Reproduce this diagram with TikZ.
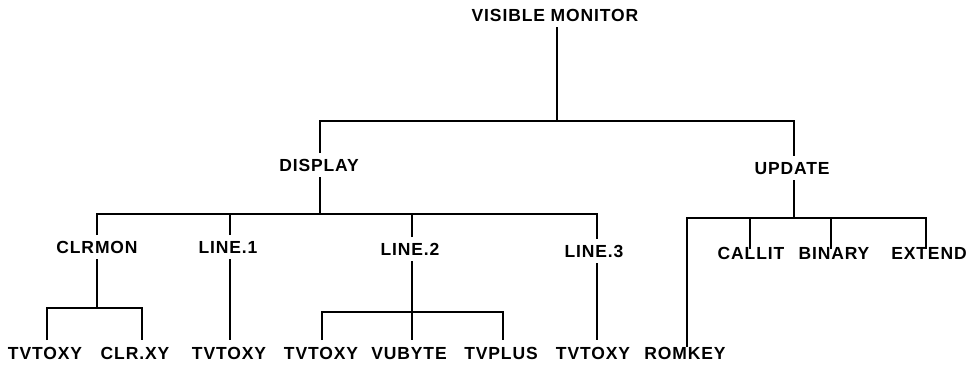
\documentclass[tikz,border=0pt]{standalone}
\usepackage{fontspec}
\setmainfont{Liberation Sans}[LetterSpace=5]
\begin{document}
\begin{tikzpicture}[x=1pt,y=-1pt,
  lbl/.style={font=\fontsize{17.5}{20}\selectfont\bfseries, inner xsep=1pt, inner ysep=5.5pt, text height=12.6pt, text depth=0pt},
  wire/.style={line width=1.7pt, line cap=butt, line join=miter}]
\useasboundingbox (0,0) rectangle (976,365);
% nodes
\node[lbl] (vm) at (555,15) {VISIBLE MONITOR};
\node[lbl] (disp) at (319,165) {DISPLAY};
\node[lbl] (upd) at (792,168) {UPDATE};
\node[lbl] (clrmon) at (97,247) {CLRMON};
\node[lbl] (line1) at (228,247) {LINE.1};
\node[lbl] (line2) at (410,249) {LINE.2};
\node[lbl] (line3) at (594,251) {LINE.3};
\node[lbl] (callit) at (751,253) {CALLIT};
\node[lbl] (binary) at (834,253) {BINARY};
\node[lbl] (extend) at (929,253) {EXTEND};
\node[lbl] (t1) at (45,353) {TVTOXY};
\node[lbl] (clrxy) at (135,353) {CLR.XY};
\node[lbl] (t2) at (229,353) {TVTOXY};
\node[lbl] (t3) at (321,353) {TVTOXY};
\node[lbl] (vubyte) at (409,353) {VUBYTE};
\node[lbl] (tvplus) at (501,353) {TVPLUS};
\node[lbl] (t4) at (593,353) {TVTOXY};
\node[lbl] (romkey) at (685,353) {ROMKEY};
% junction levels
\coordinate (h1) at (0,121);
\coordinate (h2) at (0,214);
\coordinate (h3) at (0,218);
\coordinate (h4) at (0,308);
\coordinate (h5) at (0,312);
% level 1
\draw[wire] ([xshift=2pt]vm.south) -- ([xshift=2pt]vm.south |- h1);
\draw[wire] ([xshift=1pt]disp.north) -- ([xshift=1pt]disp.north |- h1) -- ([xshift=2pt]upd.north |- h1) -- ([xshift=2pt]upd.north);
% DISPLAY children
\draw[wire] ([xshift=1pt]disp.south) -- ([xshift=1pt]disp.south |- h2);
\draw[wire] (clrmon.north) -- (clrmon.north |- h2) -- ([xshift=3pt]line3.north |- h2) -- ([xshift=3pt]line3.north);
\draw[wire] ([xshift=2pt]line1.north) -- ([xshift=2pt]line1.north |- h2);
\draw[wire] ([xshift=2pt]line2.north) -- ([xshift=2pt]line2.north |- h2);
% UPDATE children
\draw[wire] ([xshift=2pt]upd.south) -- ([xshift=2pt]upd.south |- h3);
\draw[wire] ([xshift=2pt,yshift=-6pt]romkey.north) -- ([xshift=2pt]romkey.north |- h3) -- ([xshift=-3pt]extend.north |- h3) -- ([xshift=-3pt,yshift=-8pt]extend.north);
\draw[wire] ([xshift=-1pt]callit.north |- h3) -- ([xshift=-1pt,yshift=-8pt]callit.north);
\draw[wire] ([xshift=-3pt]binary.north |- h3) -- ([xshift=-3pt,yshift=-8pt]binary.north);
% CLRMON children
\draw[wire] (clrmon.south) -- (clrmon.south |- h4);
\draw[wire] ([xshift=2pt,yshift=1pt]t1.north) -- ([xshift=2pt]t1.north |- h4) -- ([xshift=7pt]clrxy.north |- h4) -- ([xshift=7pt,yshift=1pt]clrxy.north);
% LINE.1 / LINE.3 children
\draw[wire] ([xshift=2pt]line1.south) -- ([xshift=1pt,yshift=1pt]t2.north);
\draw[wire] ([xshift=3pt]line3.south) -- ([xshift=4pt,yshift=1pt]t4.north);
% LINE.2 children
\draw[wire] ([xshift=2pt]line2.south) -- ([xshift=3pt,yshift=1pt]vubyte.north);
\draw[wire] ([xshift=1pt,yshift=1pt]t3.north) -- ([xshift=1pt]t3.north |- h5) -- ([xshift=2pt]tvplus.north |- h5) -- ([xshift=2pt,yshift=1pt]tvplus.north);
\end{tikzpicture}
\end{document}
